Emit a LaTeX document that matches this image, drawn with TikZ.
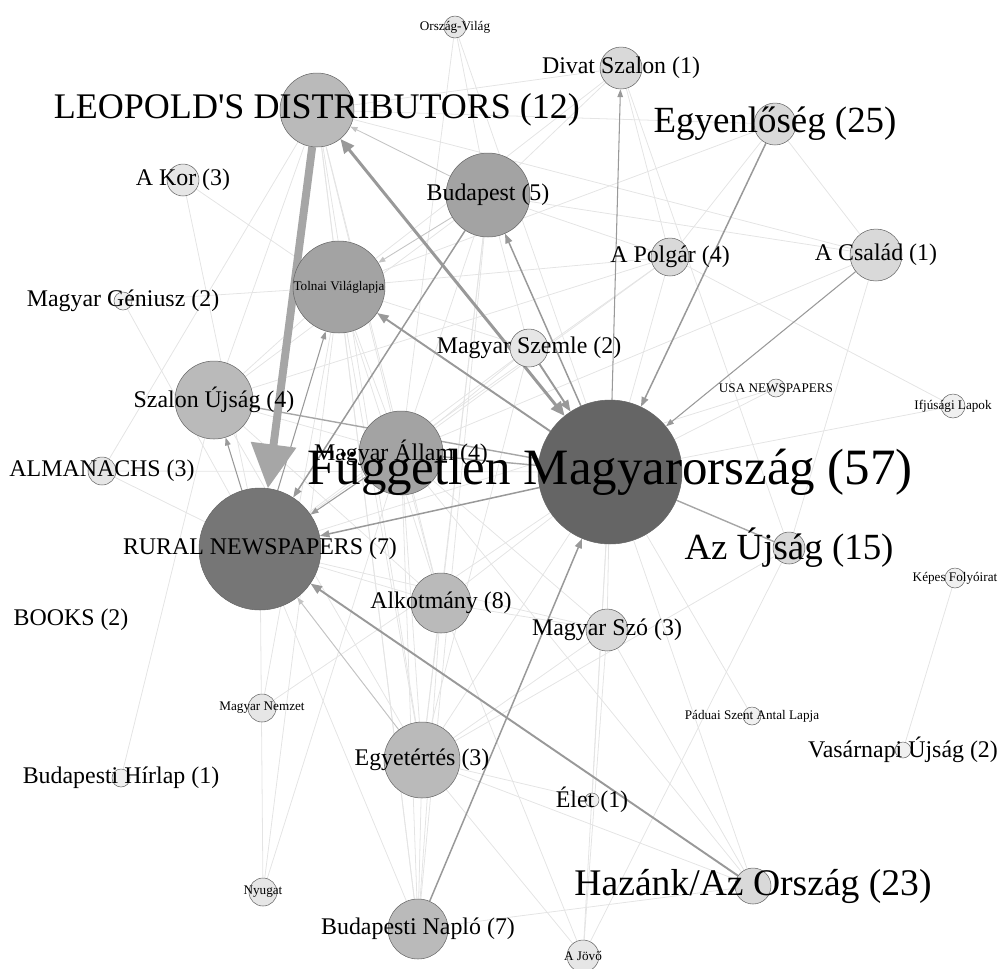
\documentclass[tikz,border=0pt]{standalone}
\usepackage{fontspec}
\setmainfont{Liberation Serif}
\usetikzlibrary{arrows.meta}
\pgfdeclarelayer{edges}
\pgfdeclarelayer{labels}
\pgfsetlayers{edges,main,labels}
\definecolor{hubfill}{HTML}{656565}
\definecolor{ruralfill}{HTML}{767676}
\definecolor{darkfill}{HTML}{A3A3A3}
\definecolor{midfill}{HTML}{BABABA}
\definecolor{lightfill}{HTML}{D9D9D9}
\definecolor{palefill}{HTML}{E6E6E6}
\definecolor{tinyfill}{HTML}{F0F0F0}
\definecolor{edgedark}{HTML}{999999}
\definecolor{edgemid}{HTML}{A6A6A6}
\definecolor{edgeweak}{HTML}{C4C4C4}
\definecolor{edgefaint}{HTML}{E4E4E4}
\begin{document}
\begin{tikzpicture}[x=0.02cm, y=-0.02cm, line join=round, line cap=round,
    pub/.style={circle, draw=black!60, line width=0.3pt, inner sep=0pt, minimum size=#1*0.04cm},
    huge/.style={font=\fontsize{29}{29}\selectfont},
    big/.style={font=\fontsize{21}{21}\selectfont},
    mid/.style={font=\fontsize{13.6}{14}\selectfont},
    tiny/.style={font=\fontsize{7.5}{8}\selectfont},
    faint/.style={draw=edgefaint, line width=0.45pt},
    weak/.style={draw=edgeweak, line width=0.5pt, -{Triangle[length=4pt,width=3pt]}},
    thin/.style={draw=edgedark, line width=0.6pt, -{Triangle[length=4.5pt,width=3.2pt]}},
    plain/.style={draw=edgemid, line width=0.8pt},
    medium/.style={draw=edgedark, line width=0.85pt, -{Triangle[length=5.5pt,width=4pt]}},
    heavy/.style={draw=edgedark, line width=1.1pt, -{Triangle[length=6.5pt,width=5pt]}},
    strong/.style={draw=edgedark, line width=1.7pt, {Triangle[length=8pt,width=7pt]}-{Triangle[length=8pt,width=7pt]}},
    massive/.style={draw=edgemid, line width=4.5pt, -{Triangle[length=25pt,width=25pt]}}]
\useasboundingbox (0,0) rectangle (1000,968);

% publications
\node[pub=11, fill=palefill] (orszag) at (455,27) {};
\node[pub=37, fill=midfill] (leo) at (317,110) {};
\node[pub=21, fill=lightfill] (divat) at (621,68) {};
\node[pub=21, fill=lightfill] (egyen) at (775,124) {};
\node[pub=16, fill=palefill] (akor) at (183,180) {};
\node[pub=42, fill=darkfill] (budapest) at (488,195) {};
\node[pub=46, fill=darkfill] (tolnai) at (339,287) {};
\node[pub=19, fill=lightfill] (polgar) at (670,257) {};
\node[pub=26, fill=lightfill] (csalad) at (876,255) {};
\node[pub=9, fill=tinyfill] (geniusz) at (123,301) {};
\node[pub=19, fill=palefill] (szemle) at (529,348) {};
\node[pub=39, fill=midfill] (szalon) at (214,400) {};
\node[pub=9, fill=tinyfill] (usa) at (776,388) {};
\node[pub=12, fill=tinyfill] (ifjusagi) at (953,406) {};
\node[pub=14, fill=palefill] (almanachs) at (102,471) {};
\node[pub=42, fill=darkfill] (allam) at (401,453) {};
\node[pub=72, fill=hubfill] (fug) at (610,472) {};
\node[pub=61, fill=ruralfill] (rural) at (260,549) {};
\node[pub=16, fill=lightfill] (azujsag) at (789,548) {};
\node[pub=10, fill=tinyfill] (kepes) at (955,578) {};
\node[pub=30, fill=midfill] (alkotmany) at (441,603) {};
\coordinate (books) at (71,620);
\node[pub=21, fill=lightfill] (szo) at (607,630) {};
\node[pub=14, fill=palefill] (nemzet) at (262,708) {};
\node[pub=9, fill=tinyfill] (paduai) at (752,716) {};
\node[pub=9, fill=tinyfill] (hirlap) at (121,778) {};
\node[pub=38, fill=midfill] (egyet) at (422,760) {};
\node[pub=8, fill=tinyfill] (vasarnapi) at (903,750) {};
\node[pub=7, fill=tinyfill] (elet) at (592,800) {};
\node[pub=14, fill=palefill] (nyugat) at (263,892) {};
\node[pub=18, fill=lightfill] (hazank) at (753,886) {};
\node[pub=30, fill=midfill] (naplo) at (418,929) {};
\node[pub=16, fill=palefill] (jovo) at (583,956) {};

\begin{pgfonlayer}{edges}
% faint links
\foreach \a/\b in {leo/divat, leo/egyen, leo/csalad, leo/tolnai, leo/allam, leo/alkotmany,
    leo/egyet, leo/szalon, leo/almanachs, leo/naplo, orszag/allam, orszag/fug, orszag/budapest,
    akor/fug, akor/rural, geniusz/tolnai, geniusz/rural, divat/tolnai, divat/azujsag,
    divat/budapest, divat/polgar, egyen/polgar, egyen/csalad, egyen/tolnai,
    budapest/szemle, budapest/allam, budapest/alkotmany, budapest/egyet, budapest/szalon,
    budapest/polgar, budapest/csalad, budapest/naplo, tolnai/allam, tolnai/alkotmany,
    tolnai/egyet, tolnai/naplo, tolnai/szalon, tolnai/polgar, tolnai/szemle, tolnai/nemzet,
    polgar/allam, polgar/szalon, polgar/fug, polgar/rural, csalad/allam, csalad/azujsag,
    szemle/rural, szemle/allam, szemle/egyet, szalon/allam, szalon/egyet, szalon/hirlap,
    szalon/alkotmany, usa/fug, usa/rural, ifjusagi/fug, ifjusagi/polgar, almanachs/fug,
    almanachs/rural, allam/alkotmany, allam/egyet, allam/naplo, allam/szo, fug/egyet,
    fug/alkotmany, fug/szo, fug/hazank, fug/jovo, fug/paduai, fug/elet, fug/nemzet,
    rural/alkotmany, rural/egyet, rural/naplo, rural/nyugat, rural/szo, azujsag/jovo,
    azujsag/egyet, kepes/vasarnapi, alkotmany/naplo, alkotmany/egyet, alkotmany/szo,
    alkotmany/jovo, szo/jovo, szo/hazank, szo/egyet, egyet/naplo, egyet/hazank, egyet/jovo,
    egyet/elet, naplo/hazank, hazank/allam, nyugat/allam, nyugat/tolnai}
    \draw[faint] (\a) -- (\b);
% weighted links
\draw[weak] (budapest) -- (leo);
\draw[weak] (budapest) -- (tolnai);
\draw[weak] (egyet) -- (rural);
\draw[plain] (szalon) -- (fug);
\draw[plain] (allam) -- (fug);
\draw[plain] (azujsag) -- (fug);
\draw[thin] (fug) -- (divat);
\draw[thin] (rural) -- (tolnai);
\draw[thin] (rural) -- (szalon);
\draw[thin] (allam) -- (rural);
\draw[thin] (csalad) -- (fug);
\draw[medium] (fug) -- (rural);
\draw[medium] (naplo) -- (fug);
\draw[medium] (budapest) -- (rural);
\draw[medium] (fug) -- (budapest);
\draw[medium] (egyen) -- (fug);
\draw[heavy] (szemle) -- (fug);
\draw[heavy] (hazank) -- (rural);
\draw[heavy, {Triangle[length=6.5pt,width=5pt]}-] (tolnai) -- (fug);
\draw[strong] (leo) -- (fug);
\draw[massive] (leo) -- (rural);
\end{pgfonlayer}

% names
\begin{pgfonlayer}{labels}
\node[tiny] (orszag-t) at (orszag) {Ország-Világ};
\node[big, font=\fontsize{20.5}{21}\selectfont] (leo-t) at (leo) {LEOPOLD\textquotesingle S DISTRIBUTORS (12)};
\node[mid] (divat-t) at (divat) {Divat Szalon (1)};
\node[big] (egyen-t) at (egyen) {Egyenlőség (25)};
\node[mid] (akor-t) at (akor) {A Kor (3)};
\node[mid] (budapest-t) at (budapest) {Budapest (5)};
\node[tiny] (tolnai-t) at (tolnai) {Tolnai Világlapja};
\node[mid] (polgar-t) at (polgar) {A Polgár (4)};
\node[mid] (csalad-t) at (csalad) {A Család (1)};
\node[mid] (geniusz-t) at (geniusz) {Magyar Géniusz (2)};
\node[mid] (szemle-t) at (szemle) {Magyar Szemle (2)};
\node[mid] (szalon-t) at (szalon) {Szalon Újság (4)};
\node[tiny] (usa-t) at (usa) {USA NEWSPAPERS};
\node[tiny] (ifjusagi-t) at (ifjusagi) {Ifjúsági Lapok};
\node[mid] (almanachs-t) at (almanachs) {ALMANACHS (3)};
\node[mid] (allam-t) at (allam) {Magyar Állam (4)};
\node[huge] (fug-t) at (fug) {Független Magyarország (57)};
\node[mid] (rural-t) at (rural) {RURAL NEWSPAPERS (7)};
\node[big] (azujsag-t) at (azujsag) {Az Újság (15)};
\node[tiny] (kepes-t) at (kepes) {Képes Folyóirat};
\node[mid] (alkotmany-t) at (alkotmany) {Alkotmány (8)};
\node[mid] (books-t) at (books) {BOOKS (2)};
\node[mid] (szo-t) at (szo) {Magyar Szó (3)};
\node[tiny] (nemzet-t) at (nemzet) {Magyar Nemzet};
\node[tiny] (paduai-t) at (paduai) {Páduai Szent Antal Lapja};
\node[mid] (hirlap-t) at (hirlap) {Budapesti Hírlap (1)};
\node[mid] (egyet-t) at (egyet) {Egyetértés (3)};
\node[mid] (vasarnapi-t) at (vasarnapi) {Vasárnapi Újság (2)};
\node[mid] (elet-t) at (elet) {Élet (1)};
\node[tiny] (nyugat-t) at (nyugat) {Nyugat};
\node[big, font=\fontsize{21.4}{22}\selectfont] (hazank-t) at (hazank) {Hazánk/Az Ország (23)};
\node[mid] (naplo-t) at (naplo) {Budapesti Napló (7)};
\node[tiny] (jovo-t) at (jovo) {A Jövő};
\end{pgfonlayer}
\end{tikzpicture}
\end{document}
